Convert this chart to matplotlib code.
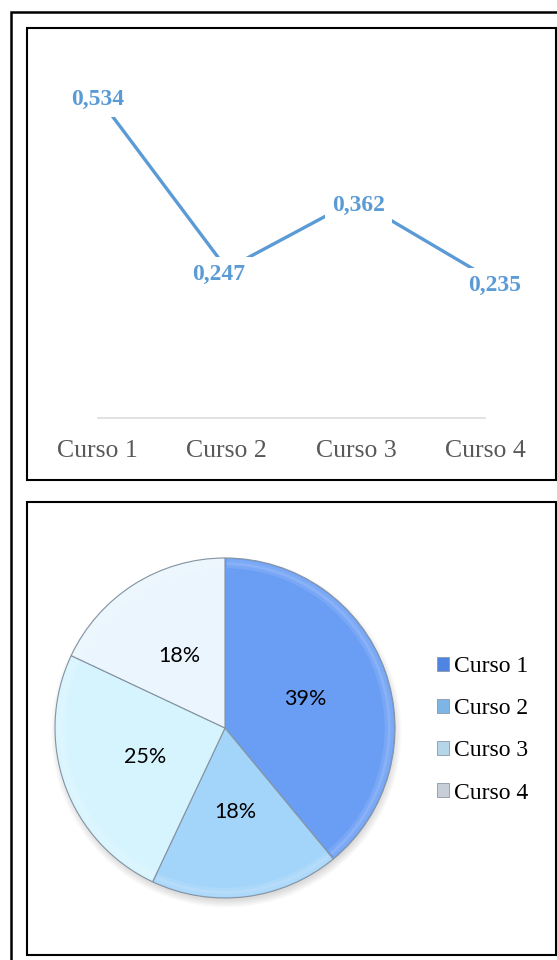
import matplotlib
matplotlib.use('agg')
import matplotlib.pyplot as plt
from matplotlib.patches import Rectangle, Wedge, Circle, Patch

cursos = ['Curso 1', 'Curso 2', 'Curso 3', 'Curso 4']
valores = [0.534, 0.247, 0.362, 0.235]
porcentajes = [39, 18, 25, 18]

W, H = 557, 960
fig = plt.figure(figsize=(W / 100, H / 100), dpi=100)
fig.patch.set_facecolor('white')


def caja(x0, y0, x1, y1, lw):
    # rectangle given in pixel coords, origin top-left
    r = Rectangle((x0 / W, 1 - y1 / H), (x1 - x0) / W, (y1 - y0) / H,
                  transform=fig.transFigure, fill=False, ec='black',
                  lw=lw, clip_on=False)
    fig.add_artist(r)


caja(11, 12, 575, 980, 1.8)
caja(27, 28, 556, 480, 1.5)
caja(27, 502, 556, 955, 1.5)

# --- line chart ---
azul = '#5B9BD5'
ax = fig.add_axes([97.5 / W, 1 - 417.6 / H, 388 / W, 361 / H])
x = list(range(len(cursos)))
ax.plot(x, valores, color=azul, lw=2.4, solid_capstyle='butt', clip_on=False)
ax.set_xlim(0, 3)
ax.set_ylim(0, 0.6)
for s in ['top', 'left', 'right']:
    ax.spines[s].set_visible(False)
ax.spines['bottom'].set_color('#D9D9D9')
ax.spines['bottom'].set_linewidth(1.1)
ax.set_yticks([])
ax.set_xticks(x)
ax.set_xticklabels(cursos, fontsize=18.5, color='#595959', family='Liberation Serif')
ax.tick_params(axis='x', length=0, pad=16)

desplaz = [(0.5, 0.7), (-8.5, 3), (2.5, 3), (9.5, 6.8)]
for i, v in enumerate(valores):
    dx, dy = desplaz[i]
    ax.annotate(f'{v:.3f}'.replace('.', ','), (i, v),
                xytext=(dx * 0.72, -dy * 0.72 - 5.8), textcoords='offset points',
                ha='center', va='baseline', fontsize=17, fontweight='bold',
                color=azul, family='Liberation Serif',
                bbox=dict(boxstyle='square,pad=0.3', fc='white', ec='none'))

# --- pie chart ---
colores = ['#6A9EF5', '#A3D4FA', '#D6F4FE', '#EAF5FD']
ax2 = fig.add_axes([55 / W, 1 - 898 / H, 340 / W, 340 / H])
for k in range(6):
    ax2.add_patch(Circle((0.008, -0.025), 0.99 + 0.008 * k, fc='black',
                         alpha=0.025, ec='none', clip_on=False, zorder=0))
wedges, texts, autotexts = ax2.pie(
    porcentajes, colors=colores, startangle=90, counterclock=False,
    autopct='%1.0f%%', pctdistance=0.5,
    wedgeprops=dict(edgecolor='#8593a1', linewidth=0.8),
    textprops=dict(fontsize=15.5, family='Lato', color='black'))
for w in wedges:
    w.set_clip_on(False)
    # soft lighter rim along the outer arc
    for r0, a in [(0.993, 0.12), (0.975, 0.10)]:
        ax2.add_patch(Wedge((0, 0), r0, w.theta1 + 0.6, w.theta2 - 0.6, width=0.035,
                            fc='white', alpha=a, ec='none', clip_on=False))
ax2.set_xlim(-1, 1)
ax2.set_ylim(-1, 1)
ax2.axis('off')

ley_colores = ['#4F84E0', '#7DB5E6', '#B5D6E8', '#C7CED8']
handles = [Patch(fc=c, ec='#8a98a8', lw=0.6) for c in ley_colores]
fig.legend(handles, cursos, loc='upper left', bbox_to_anchor=(437 / W, 1 - 656 / H),
           frameon=False, prop=dict(family='Liberation Serif', size=17),
           handlelength=0.52, handleheight=0.52, handletextpad=0.18,
           labelspacing=0.9, borderpad=0, borderaxespad=0)

fig.savefig('out.png', dpi=100)
